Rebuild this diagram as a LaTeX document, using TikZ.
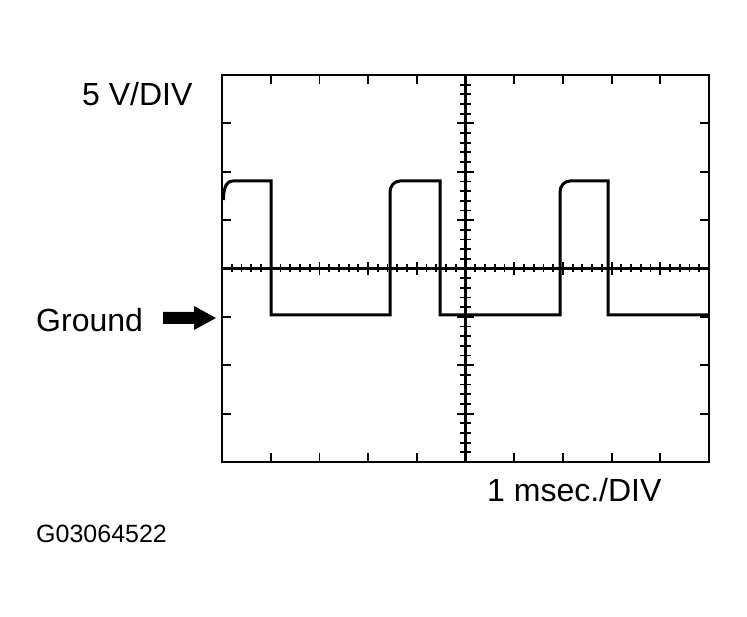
\documentclass[tikz,border=0pt]{standalone}
\usepackage{fontspec}
\setmainfont{Liberation Sans}
\begin{document}
\begin{tikzpicture}[x=1pt,y=-1pt,
  lbl/.style={inner sep=0pt,font=\fontsize{32}{34}\selectfont},
  wave/.style={line width=3pt,line join=miter},
  frame/.style={line width=2.6pt}]
\useasboundingbox (0,0) rectangle (747,617);
\def\L{222}\def\R{709}\def\T{75}\def\B{462}
\def\dx{48.7}\def\dy{48.375}
\coordinate (tl) at (\L,\T); \coordinate (br) at (\R,\B);
\draw[frame] (tl) rectangle (br);
% border ticks
\foreach \i in {1,...,9}{
  \draw[line width=1.8pt] (\L+\i*\dx,\T) -- ++(0,9);
  \draw[line width=1.8pt] (\L+\i*\dx,\B) -- ++(0,-9);}
\foreach \j in {1,...,7}{
  \draw[line width=1.8pt] (\L,\T+\j*\dy) -- ++(9,0);
  \draw[line width=1.8pt] (\R,\T+\j*\dy) -- ++(-9,0);}
% axes
\coordinate (cx) at (465.5,268.5);
\draw[frame] (\L,268.5) -- (\R,268.5);
\draw[frame] (465.5,\T) -- (465.5,\B);
\foreach \k in {1,...,49}{
  \pgfmathsetmacro\xx{\L+\k*\dx/5}
  \pgfmathtruncatemacro\m{mod(\k,5)}
  \ifnum\m=0 \draw[line width=1.8pt] (\xx,262) -- (\xx,275);
  \else \draw[line width=1.8pt] (\xx,264.5) -- (\xx,272.5);\fi}
\foreach \k in {1,...,39}{
  \pgfmathsetmacro\yy{\T+\k*\dy/5}
  \pgfmathtruncatemacro\m{mod(\k,5)}
  \ifnum\m=0 \draw[line width=1.8pt] (457,\yy) -- (474,\yy);
  \else \draw[line width=1.8pt] (460,\yy) -- (471,\yy);\fi}
% waveform
\draw[wave] (223.5,200) to[out=90,in=180] (233,181) -- (271,181) -- (271,315) -- (390,315)
  -- (390,192) to[out=90,in=180] (400,181) -- (440,181) -- (440,315) -- (560,315)
  -- (560,192) to[out=90,in=180] (570,181) -- (608,181) -- (608,315) -- (709,315);
% labels
\node[lbl,anchor=west] (v) at (82,94) {5 V/DIV};
\node[lbl,anchor=west] (g) at (36,320) {Ground};
\node[lbl,anchor=west] (t) at (487,490) {1 msec./DIV};
\node[inner sep=0pt,anchor=west,font=\fontsize{25}{27}\selectfont] (id) at (36,534) {G03064522};
\coordinate (ah) at (216,318);
\fill (163,312) -- (194,312) -- (194,306) -- (ah) -- (194,330) -- (194,324) -- (163,324) -- cycle;
\end{tikzpicture}
\end{document}
